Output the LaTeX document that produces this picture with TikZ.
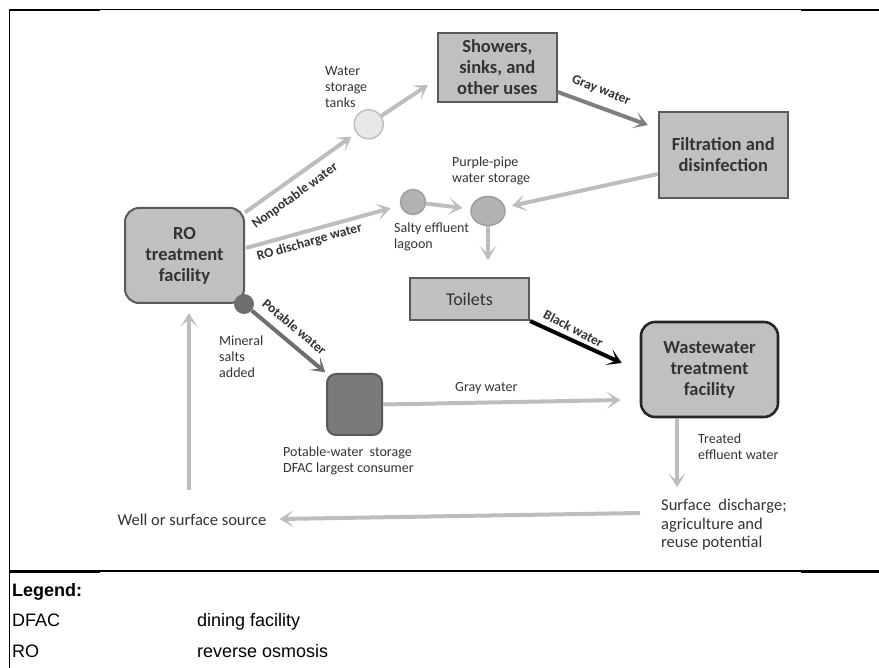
\documentclass[tikz,border=0pt]{standalone}
\usepackage{fontspec}
\setmainfont{Carlito}
\newfontfamily\arialf{Liberation Sans}
\usetikzlibrary{arrows.meta,calc,shapes.geometric}
\definecolor{boxfill}{HTML}{C0C0C0}
\definecolor{boxdraw}{HTML}{5A5A5A}
\definecolor{lightarr}{HTML}{BDBDBD}
\definecolor{midarr}{HTML}{7F7F7F}
\definecolor{darkarr}{HTML}{6E6E6E}
\definecolor{txt}{HTML}{333333}
\begin{document}
\begin{tikzpicture}[x=1pt,y=-1pt,
  flow/.style={line width=4pt, draw=lightarr, -{Stealth[length=14pt,width=17pt,inset=8pt]}},
  box/.style={draw=boxdraw, fill=boxfill, line width=2pt, align=center, text=txt, inner sep=0pt,
    font=\bfseries\fontsize{18.5}{21}\selectfont},
  tank/.style={circle, inner sep=0pt, line width=1.5pt},
  lbl/.style={inner sep=0pt, text=txt, align=left, anchor=north west, font=\fontsize{14}{16}\selectfont},
  biglbl/.style={inner sep=0pt, text=txt, align=left, font=\fontsize{16.5}{18.5}\selectfont},
  arrlbl/.style={inner sep=0pt, text=txt, font=\bfseries\fontsize{13.5}{15}\selectfont},
  legtxt/.style={inner sep=0pt, anchor=base west, font=\arialf\fontsize{18}{20}\selectfont}]
\useasboundingbox (0,0) rectangle (879,668);
% frame
\draw[line width=1.2pt] (9.5,9.5) -- (879,9.5);
\draw[line width=1.2pt] (9.5,9) -- (9.5,668);
\draw[line width=1.2pt] (9.5,571) -- (879,571);
\draw[line width=2.4pt] (9,10) -- (100,10);
\draw[line width=2.4pt] (801,10) -- (879,10);
\draw[line width=2.4pt] (9,571.5) -- (100,571.5);
\draw[line width=2.4pt] (801,571.5) -- (879,571.5);

% boxes
\node[box, minimum width=119pt, minimum height=95pt, rounded corners=14pt] (ro) at (184.5,255.5) {RO\\treatment\\facility};
\node[box, minimum width=119pt, minimum height=69pt] (show) at (497.3,67.5) {Showers,\\sinks, and\\other uses};
\node[box, minimum width=129pt, minimum height=86pt] (filt) at (723.3,155) {Filtration and\\disinfection};
\node[box, minimum width=119pt, minimum height=42pt, font=\fontsize{18}{21}\selectfont] (toilets) at (469.5,299) {Toilets};
\node[box, draw=black!85, line width=2.6pt, minimum width=137pt, minimum height=95pt, rounded corners=14pt] (ww) at (709.5,369.5) {Wastewater\\treatment\\facility};
\node[box, fill=black!52, draw=black!65, minimum width=55pt, minimum height=61pt, rounded corners=9pt] (pstore) at (354.5,404.5) {};

% circles
\node[tank, minimum size=29pt, fill=black!9, draw=black!25] (tank) at (368.7,124.3) {};
\node[tank, minimum size=25pt, fill=black!30, draw=black!38] (lagoon) at (413,202) {};
\node[ellipse, inner sep=0pt, line width=1.5pt, minimum width=34pt, minimum height=29pt, fill=black!30, draw=black!38] (purple) at (488,211) {};
\node[circle, inner sep=0pt, minimum size=20pt, fill=darkarr] (dot) at (244,304) {};

% text labels
\node[lbl] (tanklbl) at (325,66) {Water\\storage\\tanks};
\node[lbl] (laglbl) at (394,223) {Salty effluent\\lagoon};
\node[lbl] (purlbl) at (452,157) {Purple-pipe\\water storage};
\node[lbl] (minlbl) at (219,336) {Mineral\\salts\\added};
\node[lbl] (pslbl) at (283,447) {Potable-water\ \ storage\\DFAC largest consumer};
\node[lbl] (gwlbl) at (455,382) {Gray water};
\node[lbl] (trlbl) at (698,434) {Treated\\effluent water};
\node[biglbl, anchor=north west] (surf) at (661,499) {Surface\ \ discharge;\\agriculture and\\reuse potential};
\node[biglbl] (well) at (192,520) {Well or surface source};

% arrow labels
\node[arrlbl, rotate=36] (lnp) at (295,196) {Nonpotable water};
\node[arrlbl, rotate=16] (lrd) at (309.5,242.5) {RO discharge water};
\node[arrlbl, rotate=-22] (lgw) at (601,90.5) {Gray water};
\node[arrlbl, rotate=-28] (lbw) at (573.5,328.7) {Black water};
\node[arrlbl, rotate=-40] (lpw) at (294.5,326.7) {Potable water};

% connectors
\draw[flow, shorten >=6pt] (ro) -- (tank);
\draw[flow, shorten >=10pt] ($(ro.east)+(1,-7.5)$) -- (lagoon);
\draw[flow] (tank) -- ($(show.west)+(-9,17.5)$);
\draw[flow, draw=midarr] ($(show.east)+(0,24.5)$) -- ($(filt.north west)+(-10,14)$);
\draw[flow, shorten >=7pt] ($(filt.west)+(0,19)$) -- (purple);
\draw[flow, shorten >=8pt] (lagoon) -- (purple);
\draw[flow, shorten >=17pt] (purple) -- (purple |- toilets.north);
\draw[flow, draw=black] (toilets.south east) -- ($(ww.west)+(-18,-6.5)$);
\draw[flow, draw=darkarr, shorten >=1pt] (dot) -- (pstore.north west);
\draw[flow] (pstore.east) -- ($(ww.west)+(-19,30.5)$);
\draw[flow] ($(ww.south)+(-32.5,1)$) -- ($(ww.south)+(-32.5,69)$);
\draw[flow] ($(surf.north west)+(-21,14)$) -- ($(well.east)+(13,-1)$);
\draw[flow] ($(well.north)+(-3,-24)$) -- ($(ro.south)+(4.5,9)$);

% legend
\node[legtxt, font=\arialf\bfseries\fontsize{18}{20}\selectfont] (leg) at (12,596.5) {Legend:};
\node[legtxt] (dfac) at (12,626.5) {DFAC};
\node[legtxt] (dfacd) at (197,626.5) {dining facility};
\node[legtxt] (rol) at (12,657.5) {RO};
\node[legtxt] (rold) at (197,657.5) {reverse osmosis};
\end{tikzpicture}
\end{document}
